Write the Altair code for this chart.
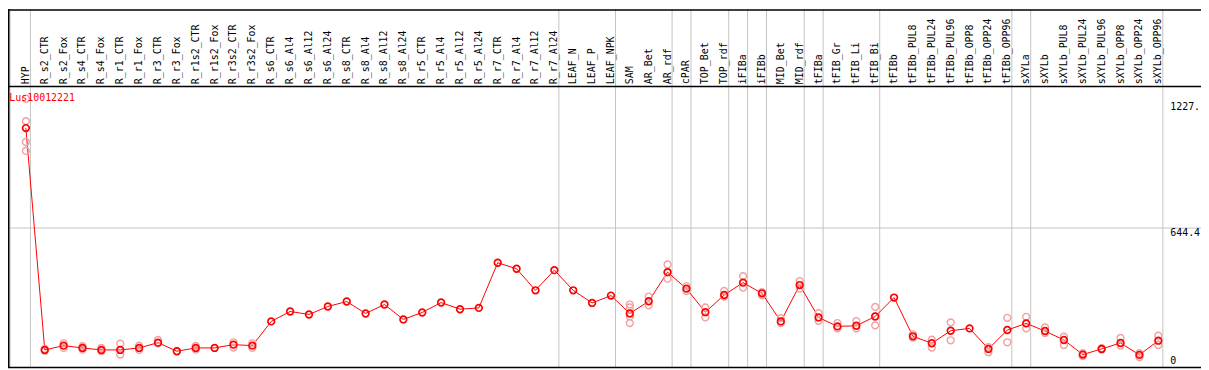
import altair as alt
import pandas as pd

gene = "Lus10012221"

categories = [
    "HYP", "R_s2_CTR", "R_s2_Fox", "R_s4_CTR", "R_s4_Fox", "R_r1_CTR", "R_r1_Fox",
    "R_r3_CTR", "R_r3_Fox", "R_r1s2_CTR", "R_r1s2_Fox", "R_r3s2_CTR", "R_r3s2_Fox",
    "R_s6_CTR", "R_s6_Al4", "R_s6_Al12", "R_s6_Al24", "R_s8_CTR", "R_s8_Al4",
    "R_s8_Al12", "R_s8_Al24", "R_r5_CTR", "R_r5_Al4", "R_r5_Al12", "R_r5_Al24",
    "R_r7_CTR", "R_r7_Al4", "R_r7_Al12", "R_r7_Al24", "LEAF_N", "LEAF_P", "LEAF_NPK",
    "SAM", "AR_Bet", "AR_rdf", "cPAR", "TOP_Bet", "TOP_rdf", "iFIBa", "iFIBb",
    "MID_Bet", "MID_rdf", "tFIBa", "tFIB_Gr", "tFIB_Li", "tFIB_Bi", "tFIBb",
    "tFIBb_PUL8", "tFIBb_PUL24", "tFIBb_PUL96", "tFIBb_OPP8", "tFIBb_OPP24",
    "tFIBb_OPP96", "sXYLa", "sXYLb", "sXYLb_PUL8", "sXYLb_PUL24", "sXYLb_PUL96",
    "sXYLb_OPP8", "sXYLb_OPP24", "sXYLb_OPP96",
]

means = [
    1108.5, 78.4, 98.3, 87.6, 78.4, 78.4, 87.6, 112.1, 72.4, 87.6, 87.6, 102.9, 98.3,
    210.8, 256.9, 243.1, 280.0, 303.1, 247.7, 289.2, 220.0, 252.3, 298.4, 267.5, 273.5,
    483.0, 455.3, 355.2, 448.8, 355.2, 296.6, 330.7, 247.7, 304.4, 439.6, 363.0, 253.7,
    333.5, 390.7, 341.3, 210.8, 379.6, 229.3, 187.7, 190.5, 233.9, 321.5, 141.6, 109.3,
    167.4, 178.5, 83.0, 170.7, 201.6, 166.1, 124.5, 56.7, 83.0, 110.7, 55.4, 121.3,
]

replicates = [
    [1245.0, 1140.7, 1043.9, 1002.4], [83.0, 74.0], [109.3, 87.6], [95.5, 79.8],
    [87.6, 72.4], [107.5, 56.7, 78.4], [98.3, 78.4], [124.5, 109.3], [72.4],
    [96.9, 79.8], [], [113.9, 89.0], [109.3, 87.6],
    [], [], [], [], [], [], [], [], [], [], [], [], [], [], [], [], [], [], [],
    [289.2, 275.4, 233.9, 203.0], [326.1, 286.0], [475.1, 409.2, 439.6],
    [375.0, 352.0], [275.4, 229.3], [352.0, 326.1], [421.1, 367.6], [347.0, 332.0],
    [226.0, 203.0], [398.0, 363.0], [249.0, 213.6], [203.0, 178.5], [212.2, 178.5],
    [278.1, 192.4, 233.9], [], [150.8, 135.2], [125.9, 89.0], [206.2, 123.2], [],
    [90.9, 67.8], [227.4, 113.9], [232.0, 178.5], [183.1, 156.8], [139.8, 101.5],
    [63.2, 49.4], [86.3, 79.8], [133.8, 98.3], [63.2, 44.7], [144.4, 101.5],
]

group_ends = ["HYP", "R_r7_Al24", "LEAF_NPK", "AR_rdf", "cPAR", "TOP_rdf", "iFIBa",
              "iFIBb", "MID_rdf", "tFIBa", "tFIB_Bi", "tFIBb_OPP96", "sXYLa", "sXYLb_OPP96"]

y_ticks = [1227.3, 644.4, 0]
y_tick_labels = ["1227.", "644.4", "0"]
reference_line = [644.4]

assert len(categories) == len(means) == len(replicates)

W, H = 1201, 362
RED = "#ff0000"
PINK = "#f2a0a0"
GRAY = "#c4c4c4"
FONT = "DejaVu Sans Mono"

xs = alt.Scale(domain=[0, len(categories) - 1], range=[18, 1158])
ys = alt.Scale(domain=[0, 644.4], range=[360, 220.3], nice=False, zero=False)

df_mean = pd.DataFrame({"i": range(len(categories)), "cat": categories, "v": means})
df_rep = pd.DataFrame(
    [{"i": i, "cat": c, "v": v} for i, (c, reps) in enumerate(zip(categories, replicates)) for v in reps]
)
sep_pos = [-0.84] + [categories.index(c) + 0.24 for c in group_ends]
df_sep = pd.DataFrame({"p": sep_pos})
df_ref = pd.DataFrame({"v": reference_line})
df_yt = pd.DataFrame({"v": y_ticks, "t": y_tick_labels})
one = pd.DataFrame({"k": [0]})

seps = alt.Chart(df_sep).mark_rule(color=GRAY, strokeWidth=1).encode(
    x=alt.X("p:Q", scale=xs, axis=None), y=alt.value(0), y2=alt.value(361)
)
refl = alt.Chart(df_ref).mark_rule(color=GRAY, strokeWidth=1).encode(
    y=alt.Y("v:Q", scale=ys, axis=None), x=alt.value(0), x2=alt.value(W)
)
top_line = alt.Chart(one).mark_rule(color="black", strokeWidth=1.5).encode(
    y=alt.value(0.75), x=alt.value(0), x2=alt.value(W)
)
header_line = alt.Chart(one).mark_rule(color="black", strokeWidth=1.5).encode(
    y=alt.value(77.7), x=alt.value(0), x2=alt.value(W)
)
bottom_line = alt.Chart(one).mark_rule(color="black", strokeWidth=1.5).encode(
    y=alt.value(360.7), x=alt.value(0), x2=alt.value(W)
)
left_line = alt.Chart(one).mark_rule(color="black", strokeWidth=1.5).encode(
    x=alt.value(0.75), y=alt.value(0), y2=alt.value(361)
)
labels = alt.Chart(df_mean).mark_text(
    angle=270, align="left", baseline="middle", font=FONT, fontSize=10, color="black"
).encode(x=alt.X("i:Q", scale=xs, axis=None), y=alt.value(75.5), text="cat:N")

line = alt.Chart(df_mean).mark_line(color=RED, strokeWidth=1).encode(
    x=alt.X("i:Q", scale=xs, axis=None), y=alt.Y("v:Q", scale=ys, axis=None)
)
reps = alt.Chart(df_rep).mark_point(shape="circle", filled=False, color=PINK, strokeWidth=1.4, size=48, opacity=1).encode(
    x=alt.X("i:Q", scale=xs, axis=None), y=alt.Y("v:Q", scale=ys, axis=None)
)
pts = alt.Chart(df_mean).mark_point(shape="circle", filled=False, color=RED, strokeWidth=1.7, size=45, opacity=1).encode(
    x=alt.X("i:Q", scale=xs, axis=None), y=alt.Y("v:Q", scale=ys, axis=None)
)
ylab_top = alt.Chart(df_yt[df_yt.v > 0]).mark_text(
    align="left", baseline="top", font=FONT, fontSize=10, color="black"
).encode(x=alt.value(1170), y=alt.Y("v:Q", scale=ys, axis=None), text="t:N")
ylab_zero = alt.Chart(df_yt[df_yt.v == 0]).mark_text(
    align="left", baseline="bottom", font=FONT, fontSize=10, color="black", dy=-1
).encode(x=alt.value(1170), y=alt.Y("v:Q", scale=ys, axis=None), text="t:N")
title = alt.Chart(pd.DataFrame({"g": [gene]})).mark_text(
    align="left", baseline="alphabetic", font=FONT, fontSize=10, color=RED
).encode(x=alt.value(1.3), y=alt.value(92.5), text="g:N")

chart = alt.layer(
    seps, refl, top_line, header_line, bottom_line, left_line, labels, line, reps, pts,
    ylab_top, ylab_zero, title
).properties(
    width=W, height=H, padding=0, autosize=alt.AutoSizeParams(type="none"),
    background="white"
).configure_view(strokeWidth=0)

chart.save("out.html", embed_options={"renderer": "svg", "actions": False})
